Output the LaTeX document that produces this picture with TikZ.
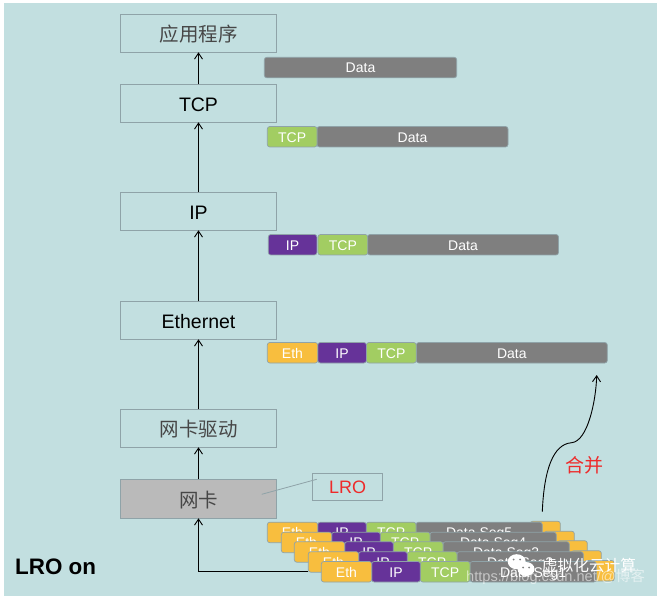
\documentclass[tikz,border=0pt]{standalone}
\usepackage{fontspec}
\setmainfont{Liberation Sans}
\newfontfamily\cjk{Noto Sans CJK SC}[BoldFont=Noto Sans CJK SC]
\usetikzlibrary{arrows.meta}
\definecolor{bgc}{HTML}{C2DFE0}
\definecolor{ln}{HTML}{8FA3A8}
\definecolor{org}{HTML}{F8BE3E}
\definecolor{pur}{HTML}{663399}
\definecolor{grn}{HTML}{A2CD62}
\definecolor{gry}{HTML}{7F7F7F}
\definecolor{lrored}{HTML}{EE2A2A}
\tikzset{x=1pt,y=-1pt,
 layer/.style={draw=ln,line width=.8pt,outer sep=0pt,minimum width=156.4pt,minimum height=38pt,inner sep=0pt,anchor=north west,text height=16pt,text depth=0pt,font=\fontsize{19.5}{22}\selectfont},
 cjklayer/.style={text=black!72,text height=17pt,text depth=0pt,font=\cjk\fontsize{19.5}{22}\selectfont},
 flow/.style={-{Straight Barb[length=6pt,width=8pt]},line width=.9pt,black},
 seg/.style={draw=ln,line width=.7pt,outer sep=0pt,rounded corners=2.5pt,minimum height=20.5pt,inner sep=0pt,anchor=north west,text=white,text height=10.6pt,text depth=0pt,font=\fontsize{14}{16}\selectfont},
 eth/.style={seg,fill=org,minimum width=50.4pt},
 ipp/.style={seg,fill=pur,minimum width=48.6pt},
 tcp/.style={seg,fill=grn,minimum width=49.7pt},
 dat/.style={seg,fill=gry},
 bubble/.style={fill=white,draw=none}}
\newcommand{\stackrow}[3]{%
 \node[seg,fill=org,minimum width=30pt] at (#1+263,#2-1) {};
 \node[dat,minimum width=126.3pt] (d#3) at (#1+148.7,#2) {Data Seg#3};
 \node[tcp] at (#1+99,#2) {TCP};
 \node[ipp] at (#1+50.4,#2) {IP};
 \node[eth] (e#3) at (#1,#2) {Eth};}
\begin{document}
\begin{tikzpicture}
\useasboundingbox (0,0) rectangle (660,601);
\fill[white] (0,0) rectangle (660,601);
\fill[bgc] (4,3.3) rectangle (657,595.7);
\node[layer,cjklayer] (app) at (120.3,14.3) {应用程序};
\node[layer] (tcp) at (120.3,84.3) {TCP};
\node[layer] (ip) at (120.3,192.3) {IP};
\node[layer] (eth) at (120.3,301.3) {Ethernet};
\node[layer,cjklayer] (drv) at (120.3,409.3) {网卡驱动};
\node[layer,cjklayer,fill=black!27!white,minimum height=39pt] (nic) at (120.3,479.3) {网卡};
\node[draw=ln,line width=.8pt,outer sep=0pt,minimum width=70.4pt,minimum height=27pt,inner sep=0pt,anchor=north west,text=lrored,font=\fontsize{18}{20}\selectfont] (lro) at (312.3,473.3) {LRO};
\coordinate (nicp) at (261.7,494.3);
\coordinate (lrop) at (316.7,479.3);
\draw[ln,line width=.8pt] (nicp) -- (lrop);
\draw[flow] (tcp.north) -- (app.south);
\draw[flow] (ip.north) -- (tcp.south);
\draw[flow] (eth.north) -- (ip.south);
\draw[flow] (drv.north) -- (eth.south);
\draw[flow] (nic.north) -- (drv.south);
% header rows
\node[dat,minimum width=192.4pt] (r1) at (264.3,57.3) {Data};
\node[dat,minimum width=191pt] (r2) at (317,126.5) {Data};
\node[tcp] (r2t) at (267.3,126.5) {TCP};
\node[dat,minimum width=191pt] (r3) at (367.5,234.5) {Data};
\node[tcp] at (318,234.5) {TCP};
\node[ipp] at (268.3,234.5) {IP};
\node[dat,minimum width=191pt] (r4) at (416.3,342.5) {Data};
\node[tcp] at (366.5,342.5) {TCP};
\node[ipp] at (317.8,342.5) {IP};
\node[eth] at (267.3,342.5) {Eth};
% stacked segments
\stackrow{267.3}{522.2}{5}
\stackrow{281.3}{532.2}{4}
\stackrow{294.3}{541.7}{3}
\stackrow{308.3}{551.7}{2}
\stackrow{321.3}{561.5}{1}
\coordinate (turn) at (198.5,571);
\draw[flow] (e2.west |- turn) -- (turn) -- (nic.south);
\coordinate (mstart) at (542.3,511.7);
\coordinate (mmid) at (571.7,442.7);
\coordinate (mend) at (596.7,375);
\draw[-{Straight Barb[length=6pt,width=8pt]},line width=.9pt] (mstart) .. controls (544,470) and (553,444) .. (mmid) .. controls (588,441) and (596,400) .. (mend);
\node[text=lrored,font=\cjk\fontsize{19}{21}\selectfont,inner sep=0pt] (merge) at (584,465) {合并};
\node[anchor=west,inner sep=0pt,font=\bfseries\fontsize{22.4}{24}\selectfont] (mode) at (15,567) {LRO on};
% watermark
\fill[bubble] (516.7,561.7) ellipse (9pt and 7.5pt);
\fill[gry] (513.5,559.5) circle (1pt) (520,559.5) circle (1pt);
\fill[bubble] (526,569) ellipse (8.5pt and 7pt);
\fill[gry] (523,567.5) circle (1pt) (529,567.5) circle (1pt);
\node[anchor=west,inner sep=0pt,text=white,font=\cjk\fontsize{15.7}{17}\selectfont] (wm) at (541.7,566) {虚拟化云计算};
\node[anchor=west,inner sep=0pt,text=white,opacity=.55,font=\fontsize{14.6}{16}\selectfont] (wm2) at (466,577) {https://blog.csdn.net/@\cjk 博客};
\end{tikzpicture}
\end{document}
